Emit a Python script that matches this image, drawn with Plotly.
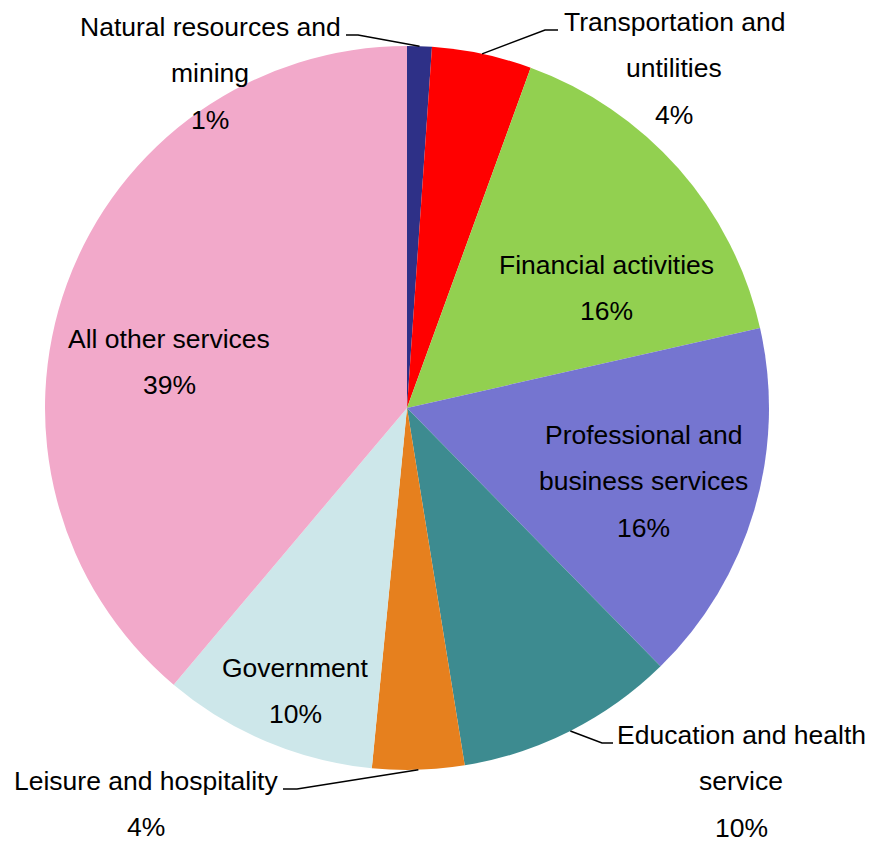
import math
import plotly.graph_objects as go

# ---- data ----
sectors = [
    "Natural resources and mining",
    "Transportation and untilities",
    "Financial activities",
    "Professional and business services",
    "Education and health service",
    "Leisure and hospitality",
    "Government",
    "All other services",
]
shares = [1.1, 4.45, 15.9, 16.2, 9.8, 4.1, 9.6, 38.85]
label_lines = [
    ["Natural resources and", "mining"],
    ["Transportation and", "untilities"],
    ["Financial activities"],
    ["Professional and", "business services"],
    ["Education and health", "service"],
    ["Leisure and hospitality"],
    ["Government"],
    ["All other services"],
]

# ---- style / layout ----
colors = ["#2E3087", "#FF0000", "#92D050", "#7575D0",
          "#3D8B90", "#E6801E", "#CDE7EA", "#F2A9CA"]
W, H = 869, 841
FONT = "Liberation Sans, Arial, sans-serif"
FS = 26.5
LINE_GAP = 46.5
dom_x = [45 / W, 769 / W]
dom_y = [1 - 770 / H, 1 - 46 / H]
# label block: centre x (px), first baseline (px), leader elbow (px) or None
label_pos = [
    (210, 36, [(346, 35), (358, 35)]),
    (674, 31, [(558, 30), (545, 30)]),
    (606, 274, None),
    (643, 444, None),
    (741, 744, [(613, 743), (602, 743)]),
    (146, 790, [(283, 789), (297, 789)]),
    (295, 677, None),
    (169, 348, None),
]


def px(x):
    return x / W


def py(y):
    return 1 - y / H


fig = go.Figure(go.Pie(
    labels=sectors,
    values=shares,
    sort=False,
    direction="clockwise",
    rotation=0,
    marker=dict(colors=colors, line=dict(width=0)),
    textinfo="none",
    hoverinfo="label+percent",
    domain=dict(x=dom_x, y=dom_y),
    showlegend=False,
))

total = sum(shares)
cx = (dom_x[0] + dom_x[1]) / 2 * W
cy = (1 - (dom_y[0] + dom_y[1]) / 2) * H
R = min((dom_x[1] - dom_x[0]) * W, (dom_y[1] - dom_y[0]) * H) / 2

annotations = []
shapes = []
cum = 0
for i, s in enumerate(shares):
    mid = (cum + s / 2) / total * 2 * math.pi
    cum += s
    lines = label_lines[i] + [f"{round(s / total * 100)}%"]
    xc, yb, leader = label_pos[i]
    for k, t in enumerate(lines):
        base = yb + k * LINE_GAP
        annotations.append(dict(
            x=px(xc), y=py(base - 0.347 * FS), xref="paper", yref="paper",
            text=t, showarrow=False, xanchor="center", yanchor="middle",
            font=dict(family=FONT, size=FS, color="black"),
        ))
    if leader:
        ex = cx + R * math.sin(mid)
        ey = cy - R * math.cos(mid)
        pts = leader + [(ex, ey)]
        path = "M " + " L ".join(f"{px(a):.5f},{py(b):.5f}" for a, b in pts)
        shapes.append(dict(type="path", path=path, xref="paper", yref="paper",
                           line=dict(color="black", width=1.5)))

fig.update_layout(
    width=W, height=H,
    margin=dict(l=0, r=0, t=0, b=0),
    paper_bgcolor="white",
    plot_bgcolor="white",
    annotations=annotations,
    shapes=shapes,
    font=dict(family=FONT),
)

fig.write_html(
    "out.html",
    config={"displayModeBar": False},
    post_script="document.body.style.margin='0';document.body.style.overflow='hidden';",
)
